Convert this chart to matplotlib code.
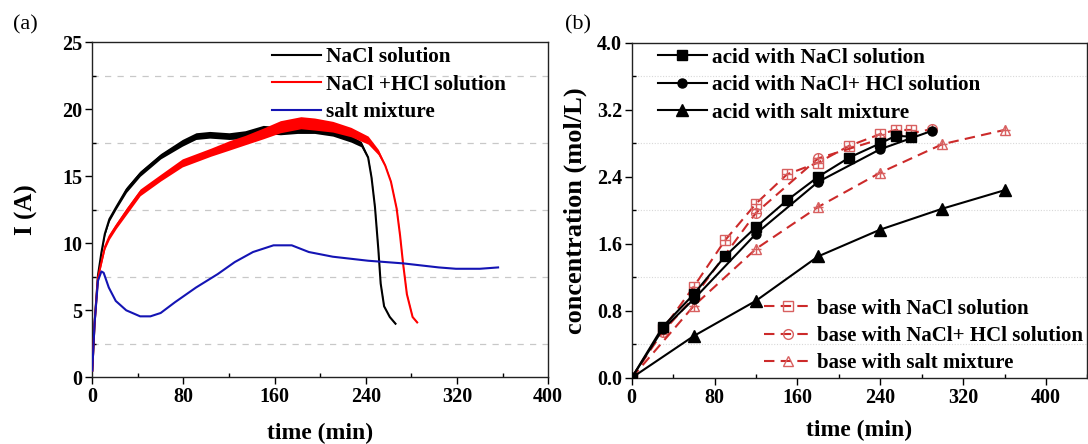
import matplotlib
matplotlib.use("Agg")
import matplotlib.pyplot as plt
from matplotlib.ticker import MultipleLocator

plt.rcParams['font.family'] = ['Liberation Serif', 'DejaVu Serif']
plt.rcParams['font.weight'] = 'bold'

# (a) current vs time
t_nacl = [0, 2, 5, 8, 11, 15, 21, 30, 42, 60, 79, 91, 103, 120, 134, 150, 165,
          180, 195, 211, 227, 236, 242, 245, 248, 251, 253, 256, 261, 266]
i_nacl = [0.5, 4.0, 7.6, 9.3, 10.7, 11.8, 12.7, 14.0, 15.2, 16.5, 17.5, 18.0,
          18.1, 18.0, 18.1, 18.5, 18.4, 18.5, 18.5, 18.3, 17.8, 17.4, 16.4,
          14.9, 12.7, 9.5, 7.0, 5.3, 4.5, 4.0]
noise_nacl = [0.05, 0.05, 0.05, 0.1, 0.1, 0.15, 0.15, 0.2, 0.2, 0.2, 0.25, 0.25,
              0.25, 0.25, 0.3, 0.3, 0.3, 0.3, 0.3, 0.3, 0.25, 0.2, 0.1, 0.05,
              0.05, 0.05, 0.05, 0.05, 0.05, 0.05]

t_hcl = [0, 2, 5, 7, 11, 15, 21, 30, 42, 60, 79, 104, 120, 134, 150, 165, 183,
         195, 211, 227, 242, 251, 257, 262, 267, 270, 272.5, 276, 281, 285]
i_hcl = [0.5, 4.0, 7.4, 8.2, 9.7, 10.5, 11.3, 12.4, 13.8, 14.9, 16.0, 16.8,
         17.3, 17.7, 18.2, 18.7, 19.0, 18.9, 18.7, 18.3, 17.7, 16.8, 15.8, 14.6,
         12.6, 10.6, 8.6, 6.2, 4.5, 4.1]
noise_hcl = [0.05, 0.05, 0.05, 0.1, 0.15, 0.2, 0.2, 0.25, 0.25, 0.25, 0.3, 0.3,
             0.35, 0.35, 0.4, 0.45, 0.45, 0.45, 0.4, 0.35, 0.3, 0.2, 0.1, 0.05,
             0.05, 0.05, 0.05, 0.05, 0.05, 0.05]

t_salt = [0, 2, 5, 8, 10, 14.5, 20.6, 29.8, 42, 51, 60, 72.5, 91, 110, 125, 141,
          159, 175, 190, 211, 242, 273, 304, 319, 340, 356]
i_salt = [0.5, 4.0, 7.2, 7.9, 7.8, 6.7, 5.7, 5.0, 4.55, 4.55, 4.8, 5.6, 6.7,
          7.7, 8.6, 9.35, 9.85, 9.85, 9.35, 9.0, 8.7, 8.5, 8.2, 8.1, 8.1, 8.2]

# (b) concentration vs time
t_acid_nacl = [0, 30, 60, 90, 120, 150, 180, 210, 240, 255, 270]
c_acid_nacl = [0, 0.61, 1.0, 1.45, 1.80, 2.12, 2.40, 2.63, 2.80, 2.89, 2.88]
t_acid_hcl = [0, 30, 60, 120, 180, 240, 290]
c_acid_hcl = [0, 0.58, 0.94, 1.72, 2.34, 2.73, 2.95]
t_acid_salt = [0, 60, 120, 180, 240, 300, 360]
c_acid_salt = [0, 0.50, 0.92, 1.45, 1.77, 2.02, 2.24]

t_base_nacl = [0, 30, 60, 90, 120, 150, 180, 210, 240, 255, 270]
c_base_nacl = [0, 0.58, 1.09, 1.64, 2.08, 2.43, 2.57, 2.77, 2.91, 2.96, 2.96]
t_base_hcl = [0, 30, 60, 120, 180, 240, 290]
c_base_hcl = [0, 0.55, 0.96, 1.97, 2.62, 2.85, 2.97]
t_base_salt = [0, 60, 120, 180, 240, 300, 360]
c_base_salt = [0, 0.86, 1.54, 2.04, 2.45, 2.79, 2.96]

fig = plt.figure(figsize=(10.88, 4.44), dpi=100)
ax1 = fig.add_axes([0.0848, 0.1502, 0.4191, 0.7545])
ax2 = fig.add_axes([0.5806, 0.1490, 0.4188, 0.7545])

leg_font = {'weight': 'bold', 'size': 15.3}


def style_axes(ax):
    for s in ax.spines.values():
        s.set_linewidth(1.0)
        s.set_color('#222222')
    ax.tick_params(which='major', direction='out', length=5, width=1,
                   labelsize=14.5, pad=2)
    ax.tick_params(which='minor', direction='in', length=3, width=1)
    for lab in ax.get_xticklabels() + ax.get_yticklabels():
        lab.set_fontweight('bold')


# panel (a)
ax1.fill_between(t_nacl, [a - b for a, b in zip(i_nacl, noise_nacl)],
                 [a + b for a, b in zip(i_nacl, noise_nacl)],
                 color='black', lw=0, zorder=3)
ax1.plot(t_nacl, i_nacl, color='black', lw=1.5, zorder=3, label='NaCl solution')
ax1.fill_between(t_hcl, [a - b for a, b in zip(i_hcl, noise_hcl)],
                 [a + b for a, b in zip(i_hcl, noise_hcl)],
                 color='#ff0000', lw=0, zorder=4)
ax1.plot(t_hcl, i_hcl, color='#ff0000', lw=1.5, zorder=4,
         label='NaCl +HCl solution')
ax1.plot(t_salt, i_salt, color='#1414b4', lw=1.5, zorder=5, label='salt mixture')

ax1.set_xlim(0, 400)
ax1.set_ylim(0, 25)
ax1.xaxis.set_major_locator(MultipleLocator(80))
ax1.xaxis.set_minor_locator(MultipleLocator(40))
ax1.yaxis.set_major_locator(MultipleLocator(5))
ax1.yaxis.set_minor_locator(MultipleLocator(2.5))
for y in [2.5, 7.5, 12.5, 17.5, 22.5]:
    ax1.axhline(y, color='#c8c8c8', lw=0.9, ls=(0, (5, 5)), zorder=1)
ax1.set_xlabel('time (min)', fontsize=17, fontweight='bold')
ax1.set_ylabel('I (A)', fontsize=18, fontweight='bold')
ax1.xaxis.set_label_coords(0.5, -0.135)
ax1.yaxis.set_label_coords(-0.118, 0.5)
style_axes(ax1)
ax1.legend(loc='upper left', bbox_to_anchor=(0.362, 1.03), frameon=False,
           handlelength=2.3, handletextpad=0.25, labelspacing=0.35,
           borderpad=0.2, prop=leg_font)

# panel (b)
red = '#cc2a2a'
mred = '#d86060'
h1, = ax2.plot(t_acid_nacl, c_acid_nacl, color='black', lw=1.5, marker='s',
               ms=6.5, zorder=5, label='acid with NaCl solution')
h2, = ax2.plot(t_acid_hcl, c_acid_hcl, color='black', lw=1.5, marker='o',
               ms=6.5, zorder=5, label='acid with NaCl+ HCl solution')
h3, = ax2.plot(t_acid_salt, c_acid_salt, color='black', lw=1.5, marker='^',
               ms=8, zorder=5, label='acid with salt mixture')

base_sets = [(t_base_nacl, c_base_nacl, 's', 'base with NaCl solution'),
             (t_base_hcl, c_base_hcl, 'o', 'base with NaCl+ HCl solution'),
             (t_base_salt, c_base_salt, '^', 'base with salt mixture')]
base_handles = []
for tt, cc, mk, lab in base_sets:
    h, = ax2.plot(tt, cc, color=red, lw=1.5, ls=(0, (5, 3)), marker=mk, ms=7,
                  mfc='none', mec=mred, mew=1.0, zorder=4, label=lab)
    ax2.plot(tt, cc, ls='none', marker='+', ms=7, mec=mred, mew=1.0, zorder=4)
    base_handles.append(h)

ax2.set_xlim(0, 440)
ax2.set_ylim(0, 4.0)
ax2.xaxis.set_major_locator(MultipleLocator(80))
ax2.xaxis.set_minor_locator(MultipleLocator(40))
ax2.yaxis.set_major_locator(MultipleLocator(0.8))
ax2.yaxis.set_minor_locator(MultipleLocator(0.4))
ax2.yaxis.set_major_formatter(plt.FormatStrFormatter('%.1f'))
for y in [0.4, 1.2, 2.0, 2.8, 3.6]:
    ax2.axhline(y, color='#d8d8d8', lw=0.8, ls=(0, (1, 1.5)), zorder=1)
ax2.set_xlabel('time (min)', fontsize=17, fontweight='bold')
ax2.set_ylabel('concentration (mol/L)', fontsize=19, fontweight='bold')
ax2.xaxis.set_label_coords(0.5, -0.125)
ax2.yaxis.set_label_coords(-0.098, 0.5)
style_axes(ax2)
leg1 = ax2.legend(handles=[h1, h2, h3], loc='upper left',
                  bbox_to_anchor=(0.025, 1.03), frameon=False,
                  handlelength=2.3, handletextpad=0.25, labelspacing=0.35,
                  borderpad=0.2, prop=leg_font)
ax2.add_artist(leg1)
ax2.legend(handles=base_handles, loc='lower left',
           bbox_to_anchor=(0.259, -0.03), frameon=False, handlelength=2.3,
           handletextpad=0.25, labelspacing=0.35, borderpad=0.2,
           prop={'weight': 'bold', 'size': 15})

fig.text(0.012, 0.945, '(a)', fontsize=16, fontweight='normal', va='center')
fig.text(0.519, 0.945, '(b)', fontsize=16, fontweight='normal', va='center')

fig.savefig('out.png', dpi=100)
